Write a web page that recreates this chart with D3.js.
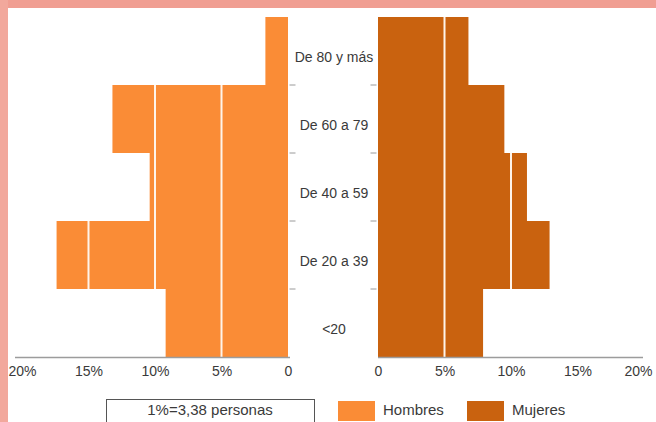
<!DOCTYPE html>
<html><head><meta charset="utf-8">
<script src="https://cdn.jsdelivr.net/npm/d3@7"></script>
<style>
html,body{margin:0;padding:0;background:#fff;}
text{font-family:"Liberation Sans",Arial,sans-serif;fill:#3a3a3a;}
</style></head>
<body><svg id="c" width="656" height="422"></svg>
<script>
const categories = ["De 80 y más","De 60 a 79","De 40 a 59","De 20 a 39","<20"];
const hombres = [1.7, 13.2, 10.4, 17.4, 9.2];
const mujeres = [6.8, 9.5, 11.2, 12.9, 7.9];
const tickValues = [0,5,10,15,20];
const tickLabels = ["0","5%","10%","15%","20%"];
const seriesNames = ["Hombres","Mujeres"];
const noteLabel = "1%=3,38 personas";

const colH = "#fa8c36", colM = "#c9620f";
const svg = d3.select("#c");

// frame
svg.append("rect").attr("x",0).attr("y",0).attr("width",656).attr("height",422).attr("fill","#fff");
svg.append("rect").attr("x",0).attr("y",0).attr("width",656).attr("height",8).attr("fill","#f09e92");
svg.append("rect").attr("x",0).attr("y",0).attr("width",8).attr("height",422).attr("fill","#f2a89c");

const y = d3.scaleBand().domain(categories).range([17,357]).padding(0);
const xL = d3.scaleLinear().domain([0,20]).range([288,22]);
const xR = d3.scaleLinear().domain([0,20]).range([378,644]);

// bars
svg.append("g").selectAll("rect").data(categories).join("rect")
  .attr("x",(d,i)=>xL(hombres[i])).attr("y",d=>y(d))
  .attr("width",(d,i)=>xL(0)-xL(hombres[i])).attr("height",y.bandwidth())
  .attr("fill",colH);
svg.append("g").selectAll("rect").data(categories).join("rect")
  .attr("x",xR(0)).attr("y",d=>y(d))
  .attr("width",(d,i)=>xR(mujeres[i])-xR(0)).attr("height",y.bandwidth())
  .attr("fill",colM);

// white gridlines, only inside bars
[5,10,15].forEach(v=>{
  categories.forEach((c,i)=>{
    if (hombres[i] > v) svg.append("line").attr("x1",xL(v)).attr("x2",xL(v))
      .attr("y1",y(c)).attr("y2",y(c)+y.bandwidth()).attr("stroke","#fff4ea").attr("stroke-width",2);
    if (mujeres[i] > v) svg.append("line").attr("x1",xR(v)).attr("x2",xR(v))
      .attr("y1",y(c)).attr("y2",y(c)+y.bandwidth()).attr("stroke","#fff4ea").attr("stroke-width",2);
  });
});

// vertical axes with ticks
const gl = svg.append("g").attr("transform","translate(289.5,0)")
  .call(d3.axisRight(y).tickValues(categories.slice(1)).tickSize(0).tickFormat(""));
gl.select(".domain").remove();
gl.selectAll(".tick").attr("transform",d=>`translate(0,${y(d)})`);
gl.selectAll(".tick line").attr("x2",6).attr("stroke","#9a9a9a");
const gr = svg.append("g").attr("transform","translate(376.5,0)")
  .call(d3.axisLeft(y).tickValues(categories.slice(1)).tickSize(0).tickFormat(""));
gr.select(".domain").remove();
gr.selectAll(".tick").attr("transform",d=>`translate(0,${y(d)})`);
gr.selectAll(".tick line").attr("x2",-6).attr("stroke","#9a9a9a");

// category labels
svg.append("g").selectAll("text").data(categories).join("text")
  .attr("x",334).attr("y",d=>y(d)+y.bandwidth()/2+7)
  .attr("text-anchor","middle").attr("dominant-baseline","middle")
  .attr("font-size",14).text(d=>d);

// bottom axes
const fmt = v => tickLabels[tickValues.indexOf(v)];
const bl = svg.append("g").attr("transform","translate(0,357.5)")
  .call(d3.axisBottom(xL).tickValues(tickValues).tickSize(0).tickPadding(9).tickFormat(fmt));
bl.select(".domain").attr("d","M15,0H290").attr("stroke","#9c9c9c").attr("stroke-width",1.5);
bl.selectAll("text").attr("font-size",14).attr("fill","#444")
  .style("font-family","'Liberation Sans',Arial,sans-serif");
const br = svg.append("g").attr("transform","translate(0,357.5)")
  .call(d3.axisBottom(xR).tickValues(tickValues).tickSize(0).tickPadding(9).tickFormat(fmt));
br.select(".domain").attr("d","M378,0H643").attr("stroke","#9c9c9c").attr("stroke-width",1.5);
br.selectAll("text").attr("font-size",14).attr("fill","#444")
  .style("font-family","'Liberation Sans',Arial,sans-serif");
br.selectAll(".tick").filter(d=>d===20).select("text").attr("dx",-6);

// legend
svg.append("rect").attr("x",106.5).attr("y",399.5).attr("width",208).attr("height",30)
  .attr("fill","#fff").attr("stroke","#555").attr("stroke-width",1);
svg.append("text").attr("x",210).attr("y",411).attr("text-anchor","middle")
  .attr("dominant-baseline","middle").attr("font-size",15).text(noteLabel);
const leg = [{x:338,c:colH},{x:467,c:colM}];
leg.forEach((l,i)=>{
  svg.append("rect").attr("x",l.x).attr("y",401).attr("width",37).attr("height",20).attr("fill",l.c);
  svg.append("text").attr("x",l.x+45).attr("y",411).attr("dominant-baseline","middle")
    .attr("font-size",15).text(seriesNames[i]);
});
</script></body></html>
